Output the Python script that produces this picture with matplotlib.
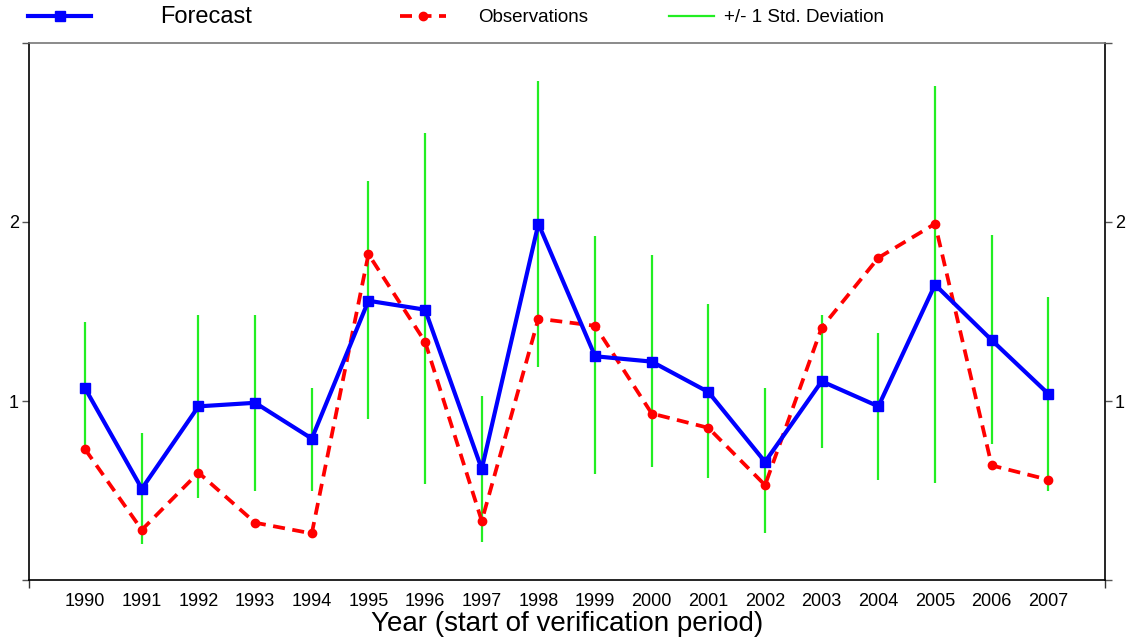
import matplotlib
matplotlib.use("Agg")
import matplotlib.pyplot as plt
from matplotlib.lines import Line2D

plt.rcParams['font.family'] = ['Liberation Sans', 'DejaVu Sans']

years = [1990, 1991, 1992, 1993, 1994, 1995, 1996, 1997, 1998,
         1999, 2000, 2001, 2002, 2003, 2004, 2005, 2006, 2007]
forecast = [1.07, 0.51, 0.97, 0.99, 0.79, 1.56, 1.51, 0.62, 1.99,
            1.25, 1.22, 1.05, 0.66, 1.11, 0.97, 1.65, 1.34, 1.04]
observations = [0.73, 0.28, 0.60, 0.32, 0.26, 1.82, 1.33, 0.33, 1.46,
                1.42, 0.93, 0.85, 0.53, 1.41, 1.80, 1.99, 0.64, 0.56]
std_upper = [1.44, 0.82, 1.48, 1.48, 1.07, 2.23, 2.50, 1.03, 2.785,
             1.92, 1.815, 1.54, 1.07, 1.48, 1.38, 2.76, 1.93, 1.58]
std_lower = [0.71, 0.20, 0.46, 0.50, 0.50, 0.90, 0.535, 0.21, 1.19,
             0.59, 0.63, 0.57, 0.26, 0.74, 0.56, 0.54, 0.76, 0.50]
ytick_vals = [0, 1, 2, 3]
ytick_labels = ['', '1', '2', '']

W, H = 1127, 638
fig = plt.figure(figsize=(W/100, H/100), dpi=100)
ax = fig.add_axes([28.5/W, 1-580/H, (1105-28.5)/W, (580-43)/H])

green = '#22ee22'
ax.vlines(years, std_lower, std_upper, colors=green, linewidth=1.6, zorder=1)
ax.plot(years, observations, color='#ff0000', linestyle=(0, (3.2, 2.0)),
        linewidth=2.7, marker='o', markersize=6, zorder=2)
ax.plot(years, forecast, color='#0000ff', linewidth=3, marker='s',
        markersize=6.5, zorder=3)

ax.set_xlim(1989, 2008)
ax.set_ylim(0, 3)
ax.set_xticks(years)
ax.set_xticklabels([str(y) for y in years], fontsize=13)
ax.set_xticks([1989, 2008], minor=True)
ax.tick_params(axis='x', which='major', length=0, pad=9)
ax.tick_params(axis='x', which='minor', length=6, width=1, color='#333333', direction='out')
ax.set_yticks(ytick_vals)
ax.set_yticklabels(ytick_labels, fontsize=13)
ax.tick_params(axis='y', which='major', length=5, width=1, color='#555555',
               direction='out', left=True, right=True, labelleft=True, labelright=True, pad=2)

ax.spines['top'].set_color('#777777')
ax.spines['top'].set_linewidth(1.2)
for s in ['left', 'right', 'bottom']:
    ax.spines[s].set_color('black')
    ax.spines[s].set_linewidth(1.2)

ax.set_xlabel('Year (start of verification period)', fontsize=20, labelpad=1)

# legend drawn in figure coordinates
ly = 1 - 16/H
fig.add_artist(Line2D([28/W, 91/W], [ly, ly], color='#0000ff', linewidth=3,
                      transform=fig.transFigure))
fig.add_artist(Line2D([59.5/W], [ly], color='#0000ff', marker='s', markersize=6.5,
                      transform=fig.transFigure))
fig.text(160/W, 1 - 17/H, 'Forecast', fontsize=17, va='center', ha='left')
fig.add_artist(Line2D([400/W, 446/W], [ly, ly], color='#ff0000', linewidth=2.7,
                      linestyle=(0, (3.2, 2.0)), transform=fig.transFigure))
fig.add_artist(Line2D([423/W], [ly], color='#ff0000', marker='o', markersize=6,
                      transform=fig.transFigure))
fig.text(478/W, 1 - 17/H, 'Observations', fontsize=13.5, va='center', ha='left')
fig.add_artist(Line2D([669/W, 714/W], [ly, ly], color=green, linewidth=1.6,
                      transform=fig.transFigure))
fig.text(724/W, 1 - 17/H, '+/- 1 Std. Deviation', fontsize=13.5, va='center', ha='left')

fig.savefig('out.png', dpi=100)
